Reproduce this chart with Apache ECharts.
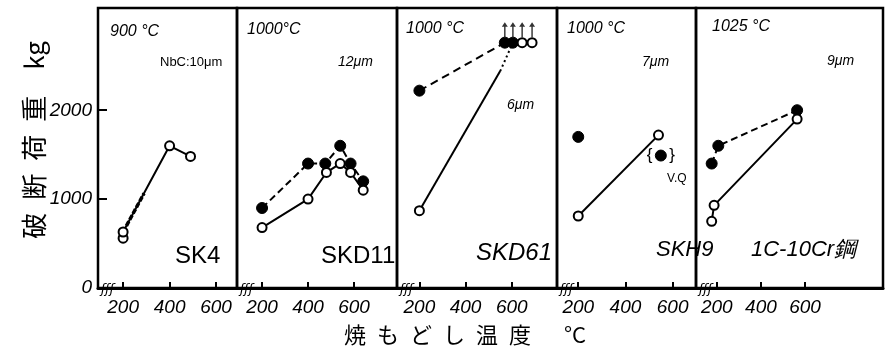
<!DOCTYPE html>
<html><head><meta charset="utf-8">
<script src="https://cdn.jsdelivr.net/npm/echarts@6/dist/echarts.min.js"></script>
<style>html,body{margin:0;padding:0;background:#fff}#c{width:885px;height:354px}</style>
</head><body><div id="c"></div><script>
// ---- data ----
const xTicks = [200, 400, 600];
const yLabels = [0, 1000, 2000];
const yTicks = [1000, 2000];
const panelNames = ['SK4', 'SKD11', 'SKD61', 'SKH9', '1C-10Cr鋼'];
const quenchTemps = ['900 °C', '1000°C', '1000 °C', '1000 °C', '1025 °C'];
const grainSizes = ['NbC:10μm', '12μm', '6μm', '7μm', '9μm'];

const sk4Open = [[200, 560], [200, 630], [400, 1600], [490, 1480]];
const sk4Dash = [[200, 630], [290, 1065]];

const skd11Filled = [[200, 900], [400, 1400], [475, 1400], [540, 1600], [585, 1400], [640, 1200]];
const skd11Open = [[200, 680], [400, 1000], [480, 1300], [540, 1400], [585, 1300], [640, 1100]];

const skd61Filled = [[200, 2220], [570, 2760], [605, 2760]];
const skd61Open = [[200, 870], [645, 2760], [688, 2760]];
const skd61SolidPath = [[200, 870], [550, 2440]];
const skd61DotPath = [[550, 2440], [605, 2760]];
const skd61Unbroken = [[570, 2760], [605, 2760], [645, 2760], [688, 2760]];

const skh9Open = [[200, 810], [540, 1720]];
const skh9Filled = [[200, 1700]];
const skh9VQ = [[550, 1490]];

const crFilled = [[177, 1400], [207, 1600], [564, 2000]];
const crOpen = [[177, 750], [188, 930], [564, 1900]];

// ---- layout ----
const gridBoxes = [
  {left: 98, width: 139, min: 92, max: 690},
  {left: 237, width: 160, min: 91, max: 787},
  {left: 397, width: 160, min: 103, max: 796},
  {left: 557, width: 139, min: 110, max: 699},
  {left: 696, width: 187, min: 106, max: 953}
];
const TOP = 8, HEIGHT = 280, YMAX = 3150;
const LATIN = '"Liberation Sans", Arial, sans-serif';

const grid = gridBoxes.map(g => ({left: g.left, top: TOP, width: g.width, height: HEIGHT,
  show: true, borderColor: '#000', borderWidth: 2.5, backgroundColor: 'transparent'}));
const xAxis = gridBoxes.map((g, i) => ({
  type: 'value', gridIndex: i, min: g.min, max: g.max,
  axisLine: {show: true, lineStyle: {color: '#000', width: 3}},
  axisTick: {show: true, inside: true, length: 6, lineStyle: {color: '#000', width: 2}, customValues: xTicks},
  axisLabel: {show: true, customValues: xTicks, formatter: v => String(v), color: '#000', fontSize: 19, fontStyle: 'italic', fontFamily: LATIN, margin: 10},
  splitLine: {show: false}
}));
const yAxis = gridBoxes.map((g, i) => ({
  type: 'value', gridIndex: i, min: 0, max: YMAX,
  axisLine: {show: false},
  axisTick: {show: i === 0, inside: true, length: 9, lineStyle: {color: '#000', width: 2}, customValues: yTicks},
  axisLabel: {show: i === 0, customValues: yLabels, formatter: v => String(v), color: '#000', fontSize: 19, fontStyle: 'italic', fontFamily: LATIN, margin: 6},
  splitLine: {show: false}
}));

const openSym = {symbol: 'circle', symbolSize: 9, itemStyle: {color: '#fff', borderColor: '#000', borderWidth: 2}};
const fillSym = {symbol: 'circle', symbolSize: 11, itemStyle: {color: '#000', borderColor: '#000', borderWidth: 1}};
function line(gi, data, sym, ltype, extra) {
  return Object.assign({type: 'line', xAxisIndex: gi, yAxisIndex: gi, data: data, silent: true,
    showSymbol: !!sym, symbol: sym ? sym.symbol : 'none', symbolSize: sym ? sym.symbolSize : 0,
    itemStyle: sym ? sym.itemStyle : {color: '#000'},
    lineStyle: ltype === null ? {width: 0, opacity: 0} : {color: '#000', width: 2, type: ltype},
    animation: false, clip: false, z: sym === openSym ? 4 : 3}, extra || {});
}
const arrowPath = 'path://M5,0 L10,6 L6.2,6 L6.2,20 L3.8,20 L3.8,6 L0,6 Z';
const series = [
  line(0, sk4Dash, null, [6, 3], {lineStyle: {color: '#000', width: 3.5, type: [5, 2]}}),
  line(0, sk4Open, openSym, 'solid'),
  line(1, skd11Filled, fillSym, [7, 4]),
  line(1, skd11Open, openSym, 'solid'),
  line(2, skd61Filled, fillSym, [8, 5]),
  line(2, skd61SolidPath, null, 'solid'),
  line(2, skd61DotPath, null, [2, 3]),
  line(2, skd61Open, openSym, null),
  {type: 'scatter', xAxisIndex: 2, yAxisIndex: 2, data: skd61Unbroken, symbol: arrowPath,
   symbolSize: [6, 15], symbolOffset: [0, -13], itemStyle: {color: '#000'}, animation: false, silent: true, z: 5},
  line(3, skh9Open, openSym, 'solid'),
  line(3, skh9Filled, fillSym, null),
  line(3, skh9VQ, fillSym, null),
  line(4, crFilled, fillSym, [7, 4]),
  line(4, crOpen, openSym, 'solid')
];

function txt(x, y, text, font, extra) {
  return Object.assign({type: 'text', x: x, y: y, silent: true, z: 10,
    style: {text: text, font: font, fill: '#000', align: 'left', verticalAlign: 'top'}}, extra || {});
}
const it = (s) => 'italic ' + s + 'px ' + LATIN;
const graphic = [
  txt(110, 24, quenchTemps[0], it(16)),
  txt(160, 56, grainSizes[0], '13px ' + LATIN),
  txt(175, 244, panelNames[0], '24px ' + LATIN),
  txt(247, 22, quenchTemps[1], it(16)),
  txt(338, 55, grainSizes[1], it(14)),
  txt(321, 244, panelNames[1], '24px ' + LATIN),
  txt(406, 21, quenchTemps[2], it(16)),
  txt(507, 98, grainSizes[2], it(14)),
  txt(476, 241, panelNames[2], it(24)),
  txt(567, 21, quenchTemps[3], it(16)),
  txt(642, 55, grainSizes[3], it(14)),
  txt(656, 239, panelNames[3], it(22)),
  txt(667, 173, 'V.Q', '12px ' + LATIN),
  txt(712, 19, quenchTemps[4], it(16)),
  txt(827, 54, grainSizes[4], it(14)),
  txt(751, 239, panelNames[4], it(22)),
  {type: 'text', x: 34, y: 140, rotation: Math.PI / 2, silent: true,
   style: {text: '破\u2002断\u2002荷\u2002重\u2003kg', font: '26px "Noto Sans CJK JP"', fill: '#000', align: 'center', verticalAlign: 'middle'}},
  {type: 'text', x: 465, y: 335, silent: true,
   style: {text: '焼\u2002も\u2002ど\u2002し\u2002温\u2002度\u2002\u2002\u2002°C', font: '22px "Noto Sans CJK JP"', fill: '#000', align: 'center', verticalAlign: 'middle'}}
];

const chart = echarts.init(document.getElementById('c'), null, {renderer: 'canvas'});
chart.setOption({animation: false, backgroundColor: '#fff', grid, xAxis, yAxis, series, graphic});

// decorative axis break marks and VQ braces, placed through the axes
const extra = [];
gridBoxes.forEach((g, i) => {
  const p = chart.convertToPixel({gridIndex: i}, [g.min, 0]);
  extra.push({type: 'text', x: p[0] + 3, y: p[1] + 2, silent: true, z: 11,
    style: {text: 'ʃʃʃ', font: 'italic 13px "DejaVu Sans"', fill: '#000', align: 'left', verticalAlign: 'middle'}});
});
const vq = chart.convertToPixel({gridIndex: 3}, skh9VQ[0]);
extra.push({type: 'text', x: vq[0], y: vq[1], silent: true, z: 11,
  style: {text: '{\u2003}', font: '17px ' + LATIN, fill: '#000', align: 'center', verticalAlign: 'middle'}});
chart.setOption({graphic: graphic.concat(extra)});
</script></body></html>
